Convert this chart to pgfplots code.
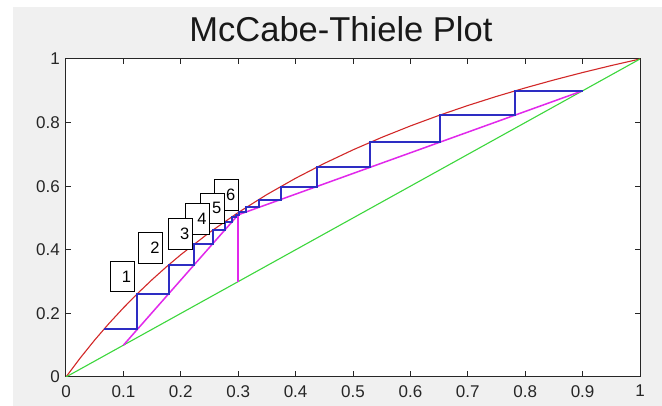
\documentclass[border=0pt]{standalone}
\usepackage{pgfplots}
\pgfplotsset{compat=1.18}
\usepackage{fontspec}
\setmainfont{Liberation Sans}
\definecolor{figgrey}{RGB}{240,240,240}
\definecolor{eqred}{RGB}{210,40,40}
\definecolor{diaggreen}{RGB}{60,215,60}
\definecolor{opmag}{RGB}{225,40,235}
\definecolor{stairblue}{RGB}{45,45,195}
\tikzset{boxlbl/.style={draw=black, fill=white, line width=0.8pt, minimum width=24pt, minimum height=30.5pt, inner sep=0pt, font=\fontsize{16.5}{18}\selectfont}}
\begin{document}
\begin{tikzpicture}
\path[use as bounding box, fill=white] (-66pt,-29pt) rectangle (596pt,377pt);
\fill[figgrey] (-53pt,-29pt) rectangle (596pt,370pt);
\begin{axis}[
  at={(0pt,0pt)}, anchor=south west,
  scale only axis, width=574pt, height=318pt,
  xmin=0, xmax=1, ymin=0, ymax=1,
  xtick={0,0.1,0.2,0.3,0.4,0.5,0.6,0.7,0.8,0.9,1},
  ytick={0,0.2,0.4,0.6,0.8,1},
  tick align=inside, tick pos=both,
  major tick length=5.5pt,
  axis line style={line width=1pt, black!85},
  tick style={line width=1pt, black!85},
  axis background/.style={fill=white},
  /pgf/number format/assume math mode=true,
  ticklabel style={font=\fontsize{17}{17}\selectfont, text=black!85},
  xticklabel style={anchor=north, inner sep=0pt, yshift=-8pt},
  yticklabel style={anchor=east, inner sep=0pt, xshift=-6pt},
  title={McCabe-Thiele Plot},
  title style={at={(axis description cs:0.479,1.0377)}, anchor=base, inner sep=0pt, font=\fontsize{34.5}{40}\selectfont, text=black!90},
]
% equilibrium curve
\addplot[eqred, line width=1.1pt] coordinates {
(0,0) (0.025,0.06024) (0.05,0.11628) (0.075,0.16854) (0.1,0.21739) (0.125,0.26316)
(0.15,0.30612) (0.175,0.34653) (0.2,0.38462) (0.25,0.45455) (0.3,0.51724)
(0.35,0.57377) (0.4,0.625) (0.45,0.67164) (0.5,0.71429) (0.55,0.75342)
(0.6,0.78947) (0.65,0.82278) (0.7,0.85366) (0.75,0.88235) (0.8,0.90909)
(0.85,0.93407) (0.9,0.95745) (0.95,0.97938) (1,1)};
% diagonal
\addplot[diaggreen, line width=1.1pt] coordinates {(0,0) (1,1)};
% operating lines and feed line
\addplot[opmag, line width=1.5pt] coordinates {(0.1,0.1) (0.3,0.51) (0.9,0.9)};
\addplot[opmag, line width=1.5pt] coordinates {(0.3,0.3) (0.3,0.51)};
% stages
\addplot[stairblue, line width=2pt, line join=miter] coordinates {
(0.9,0.9) (0.7826,0.9) (0.7826,0.8237) (0.6514,0.8237) (0.6514,0.7384)
(0.5303,0.7384) (0.5303,0.6597) (0.4368,0.6597) (0.4368,0.5989)
(0.3739,0.5989) (0.3739,0.558) (0.3355,0.558) (0.3355,0.5331)
(0.3135,0.5331) (0.3135,0.5188) (0.3013,0.5188) (0.3013,0.5108)
(0.2965,0.5108) (0.2965,0.5046) (0.2895,0.5046) (0.2895,0.4884)
(0.2763,0.4884) (0.2763,0.4615) (0.2553,0.4615) (0.2553,0.4183)
(0.2234,0.4183) (0.2234,0.3529) (0.1791,0.3529) (0.1791,0.2621)
(0.1244,0.2621) (0.1244,0.150) (0.066,0.150)};
% stage labels (drawn from 6 down to 1 so lower boxes lie on top)
\node[boxlbl] at (axis cs:0.2793,0.5723) {\makebox[24pt][r]{\raisebox{-1pt}{6}\kern3pt}};
\node[boxlbl] at (axis cs:0.2547,0.5305) {\makebox[24pt][r]{\raisebox{-1pt}{5}\kern3pt}};
\node[boxlbl] at (axis cs:0.2291,0.4979) {\makebox[24pt][r]{\raisebox{-1pt}{4}\kern3pt}};
\node[boxlbl] at (axis cs:0.1991,0.4497) {\makebox[24pt][r]{\raisebox{-1pt}{3}\kern3pt}};
\node[boxlbl] at (axis cs:0.1472,0.4057) {\makebox[24pt][r]{\raisebox{-1pt}{2}\kern3pt}};
\node[boxlbl] at (axis cs:0.0976,0.3160) {\makebox[24pt][r]{\raisebox{-1pt}{1}\kern3pt}};
\end{axis}
\end{tikzpicture}
\end{document}
